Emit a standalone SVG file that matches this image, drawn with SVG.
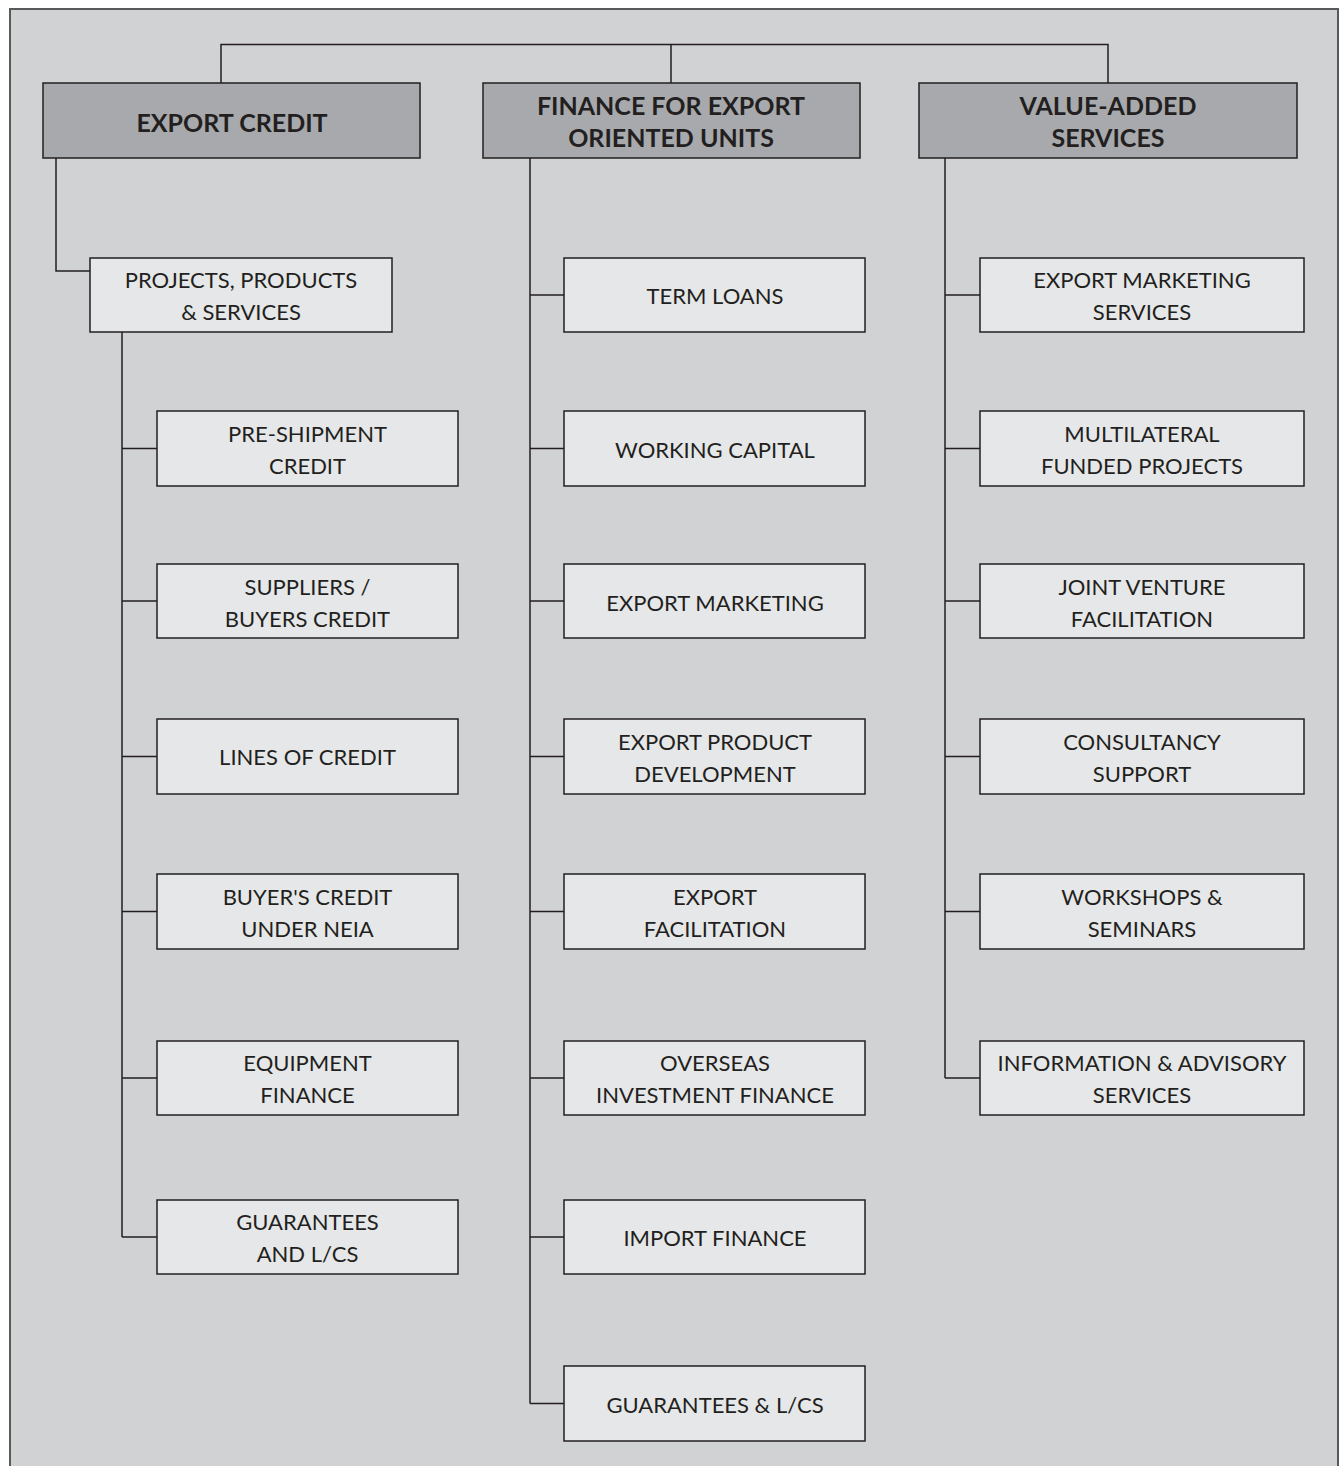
<svg xmlns="http://www.w3.org/2000/svg" width="1341" height="1466" viewBox="0 0 1341 1466">
<style>
.hd{fill:#a7a9ac;stroke:#231f20;stroke-width:1.5}
.bx{fill:#e6e7e8;stroke:#231f20;stroke-width:1.5}
.ln{fill:none;stroke:#231f20;stroke-width:1.5}
.th{font-family:Lato,"Open Sans",sans-serif;font-weight:bold;font-size:25px;fill:#231f20;text-anchor:middle}
.tx{font-family:Lato,"Open Sans",sans-serif;font-size:22px;fill:#231f20;text-anchor:middle}
</style>
<rect x="0" y="0" width="1341" height="1466" fill="#ffffff"/>
<rect x="10" y="9" width="1328" height="1480" fill="#d1d2d4" stroke="#58595b" stroke-width="2"/>
<g id="connectors" class="ln">
<path d="M221,83 V44.5 H1108 V83 M671,44.5 V83"/>
<path d="M56,158 V271 H90"/>
<path d="M122,332 V1237 M122,448.5 H157 M122,601 H157 M122,756.5 H157 M122,911.5 H157 M122,1078 H157 M122,1237 H157"/>
<path d="M530,158 V1403.5 M530,295 H564 M530,448.5 H564 M530,601 H564 M530,756.5 H564 M530,911.5 H564 M530,1078 H564 M530,1237 H564 M530,1403.5 H564"/>
<path d="M945,158 V1078 M945,295 H980 M945,448.5 H980 M945,601 H980 M945,756.5 H980 M945,911.5 H980 M945,1078 H980"/>
</g>
<g id="export-credit"><rect class="hd" x="43" y="83" width="377" height="75"/><text class="th" x="232" y="132">EXPORT CREDIT</text></g>
<g id="finance-eou"><rect class="hd" x="483" y="83" width="377" height="75"/><text class="th" x="671" y="115">FINANCE FOR EXPORT</text><text class="th" x="671" y="147">ORIENTED UNITS</text></g>
<g id="value-added"><rect class="hd" x="919" y="83" width="378" height="75"/><text class="th" x="1108" y="115">VALUE-ADDED</text><text class="th" x="1108" y="147">SERVICES</text></g>

<g id="projects"><rect class="bx" x="90" y="258" width="302" height="74"/><text class="tx" x="241" y="288">PROJECTS, PRODUCTS</text><text class="tx" x="241" y="320">&amp; SERVICES</text></g>
<g id="pre-shipment"><rect class="bx" x="157" y="411" width="301" height="75"/><text class="tx" x="307.5" y="442">PRE-SHIPMENT</text><text class="tx" x="307.5" y="474">CREDIT</text></g>
<g id="suppliers"><rect class="bx" x="157" y="564" width="301" height="74"/><text class="tx" x="307.5" y="595">SUPPLIERS /</text><text class="tx" x="307.5" y="627">BUYERS CREDIT</text></g>
<g id="lines-of-credit"><rect class="bx" x="157" y="719" width="301" height="75"/><text class="tx" x="307.5" y="765">LINES OF CREDIT</text></g>
<g id="buyers-credit"><rect class="bx" x="157" y="874" width="301" height="75"/><text class="tx" x="307.5" y="905">BUYER'S CREDIT</text><text class="tx" x="307.5" y="937">UNDER NEIA</text></g>
<g id="equipment"><rect class="bx" x="157" y="1041" width="301" height="74"/><text class="tx" x="307.5" y="1071">EQUIPMENT</text><text class="tx" x="307.5" y="1103">FINANCE</text></g>
<g id="guarantees-lcs"><rect class="bx" x="157" y="1200" width="301" height="74"/><text class="tx" x="307.5" y="1230">GUARANTEES</text><text class="tx" x="307.5" y="1262">AND L/CS</text></g>

<g id="term-loans"><rect class="bx" x="564" y="258" width="301" height="74"/><text class="tx" x="715" y="304">TERM LOANS</text></g>
<g id="working-capital"><rect class="bx" x="564" y="411" width="301" height="75"/><text class="tx" x="715" y="458">WORKING CAPITAL</text></g>
<g id="export-marketing"><rect class="bx" x="564" y="564" width="301" height="74"/><text class="tx" x="715" y="611">EXPORT MARKETING</text></g>
<g id="export-product"><rect class="bx" x="564" y="719" width="301" height="75"/><text class="tx" x="715" y="750">EXPORT PRODUCT</text><text class="tx" x="715" y="782">DEVELOPMENT</text></g>
<g id="export-facilitation"><rect class="bx" x="564" y="874" width="301" height="75"/><text class="tx" x="715" y="905">EXPORT</text><text class="tx" x="715" y="937">FACILITATION</text></g>
<g id="overseas"><rect class="bx" x="564" y="1041" width="301" height="74"/><text class="tx" x="715" y="1071">OVERSEAS</text><text class="tx" x="715" y="1103">INVESTMENT FINANCE</text></g>
<g id="import-finance"><rect class="bx" x="564" y="1200" width="301" height="74"/><text class="tx" x="715" y="1246">IMPORT FINANCE</text></g>
<g id="guarantees-lcs-2"><rect class="bx" x="564" y="1366" width="301" height="75"/><text class="tx" x="715" y="1413">GUARANTEES &amp; L/CS</text></g>

<g id="ems"><rect class="bx" x="980" y="258" width="324" height="74"/><text class="tx" x="1142" y="288">EXPORT MARKETING</text><text class="tx" x="1142" y="320">SERVICES</text></g>
<g id="multilateral"><rect class="bx" x="980" y="411" width="324" height="75"/><text class="tx" x="1142" y="442">MULTILATERAL</text><text class="tx" x="1142" y="474">FUNDED PROJECTS</text></g>
<g id="joint-venture"><rect class="bx" x="980" y="564" width="324" height="74"/><text class="tx" x="1142" y="595">JOINT VENTURE</text><text class="tx" x="1142" y="627">FACILITATION</text></g>
<g id="consultancy"><rect class="bx" x="980" y="719" width="324" height="75"/><text class="tx" x="1142" y="750">CONSULTANCY</text><text class="tx" x="1142" y="782">SUPPORT</text></g>
<g id="workshops"><rect class="bx" x="980" y="874" width="324" height="75"/><text class="tx" x="1142" y="905">WORKSHOPS &amp;</text><text class="tx" x="1142" y="937">SEMINARS</text></g>
<g id="information"><rect class="bx" x="980" y="1041" width="324" height="74"/><text class="tx" x="1142" y="1071">INFORMATION &amp; ADVISORY</text><text class="tx" x="1142" y="1103">SERVICES</text></g>
</svg>
